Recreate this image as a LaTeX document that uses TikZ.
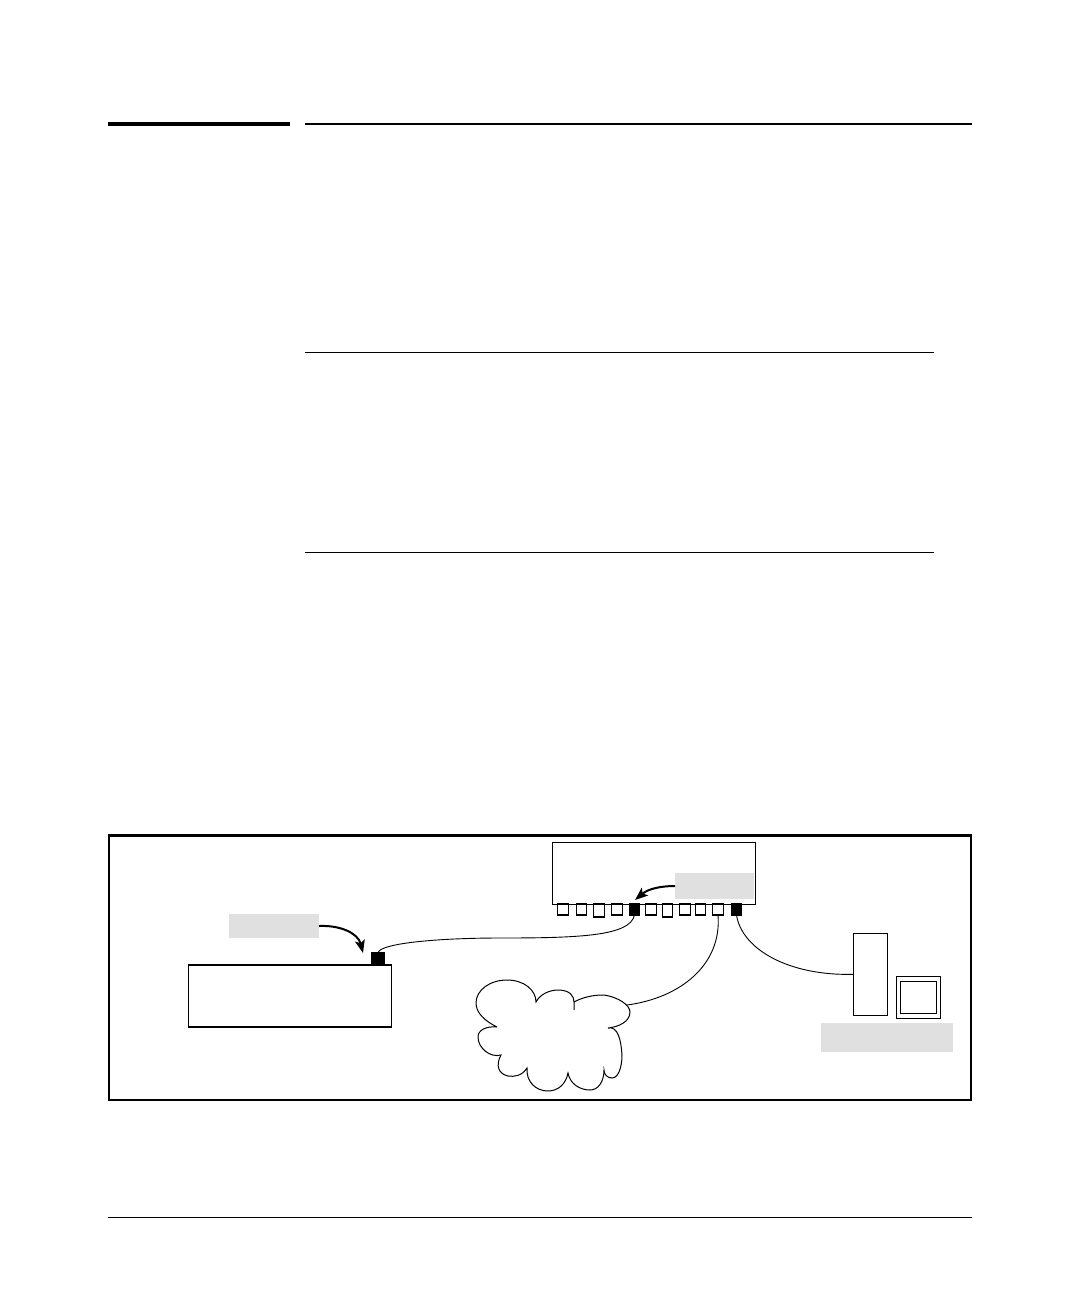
\documentclass[tikz,border=0pt]{standalone}
\usepackage{tikz}
\usepackage{xcolor}
\usetikzlibrary{arrows.meta}
\definecolor{labelgray}{RGB}{224, 224, 224}
\tikzset{
  devbox/.style={draw, fill=white, line width=1.1pt, inner sep=0pt, outer sep=0pt},
  port/.style={devbox, minimum width=10.5pt, minimum height=11pt},
  activeport/.style={port, fill=black},
  graylabel/.style={fill=labelgray, inner sep=0pt, outer sep=0pt},
  cable/.style={line width=0.9pt},
  pointer/.style={line width=2pt, -{Stealth[length=13pt,width=10pt,inset=3pt]}}
}

\begin{document}
\begin{tikzpicture}[x=1pt, y=-1pt]
    \useasboundingbox (0,0) rectangle (1080,1296);
    % Page rules
    \draw[line width=4pt] (108,124) -- (290,124);
    \draw[line width=2pt] (305,124) -- (972,124);
    \draw[line width=1pt] (305,352) -- (934,352);
    \draw[line width=1pt] (305,552) -- (934,552);
    \draw[line width=1pt] (108,1217) -- (972,1217);
    \draw[line width=2.5pt] (109,835.5) rectangle (971,1100);

    % Upper device with its row of ports
    \node[devbox, minimum width=202.5pt, minimum height=61.5pt] (upperdev) at (654,873.3) {};
    \foreach \x/\h [count=\i] in {563/11,581.5/11,599/13,617/11,651/11,667.5/13,685/11,700.5/11,718/11} {
      \node[port, minimum height=\h pt, anchor=north] (p\i) at (\x,904) {};
    }
    \node[activeport, anchor=north] (pactive) at (634.5,904) {};
    \node[activeport, anchor=north] (pend) at (736.5,904) {};
    \node[graylabel, minimum width=79pt, minimum height=26pt] (portlabel) at (714.5,886) {};

    % Lower device
    \node[devbox, minimum width=203.5pt, minimum height=62pt] (lowerdev) at (290,996) {};
    \node[activeport, minimum width=12pt, minimum height=12.5pt, anchor=south] (pupper) at (378,965.3) {};
    \node[graylabel, minimum width=90pt, minimum height=24pt] (uplabel) at (274,926) {};

    % Computer
    \node[devbox, minimum width=34.5pt, minimum height=82pt] (tower) at (870.5,974.3) {};
    \node[devbox, minimum width=44.5pt, minimum height=42.5pt] (monitor) at (918.5,997.5) {};
    \node[devbox, minimum width=36.5pt, minimum height=32pt] (screen) at (918.5,997.3) {};
    \node[graylabel, minimum width=132pt, minimum height=29pt] (pclabel) at (887,1037.5) {};

    % Cloud, drawn lobe by lobe
    \draw[line width=1pt] (497,1027)
      .. controls (485,1021) and (476,1013) .. (476,1003)
      .. controls (476,990) and (490,980) .. (507,980)
      .. controls (524,980) and (536,990) .. (536,1002)
      .. controls (540,994) and (550,990) .. (558,990)
      .. controls (570,990) and (574,996) .. (574,1002) -- (574,1010) -- (574,1002)
      .. controls (585,996) and (596,995) .. (604,995)
      .. controls (618,997) and (630,1005) .. (630,1012)
      .. controls (630,1022) and (618,1027) .. (608,1028)
      .. controls (618,1026) and (621,1040) .. (622,1055)
      .. controls (622,1068) and (618,1078) .. (612,1078)
      .. controls (607,1078) and (604,1074) .. (604,1070)
      .. controls (604,1082) and (598,1090) .. (590,1090)
      .. controls (580,1090) and (570,1084) .. (568,1073)
      .. controls (566,1084) and (558,1091) .. (548,1091)
      .. controls (536,1091) and (526,1082) .. (527,1068)
      .. controls (522,1076) and (514,1077) .. (508,1076)
      .. controls (499,1074) and (495,1066) .. (501,1055)
      .. controls (490,1058) and (478,1048) .. (478,1037)
      .. controls (478,1030) and (486,1026) .. (497,1027);
    \coordinate (cloudtip) at (627,1005);

    % Cables
    \draw[cable] (pupper.north) .. controls (380,943) and (440,938) .. (500,938)
      .. controls (580,938) and (630,936) .. (pactive.south);
    \draw[cable] (cloudtip) .. controls (680,998) and (722,965) .. (p9.south);
    \draw[cable] (pend.south) .. controls (742,950) and (790,976) .. (tower.west);

    % Pointers
    \coordinate (uptip) at (363,953);
    \draw[pointer] (uplabel.east) .. controls (340,925) and (358,933) .. (uptip);
    \coordinate (porttip) at (635,900);
    \draw[pointer] (portlabel.west) .. controls (660,886) and (648,889) .. (porttip);
\end{tikzpicture}
\end{document}
